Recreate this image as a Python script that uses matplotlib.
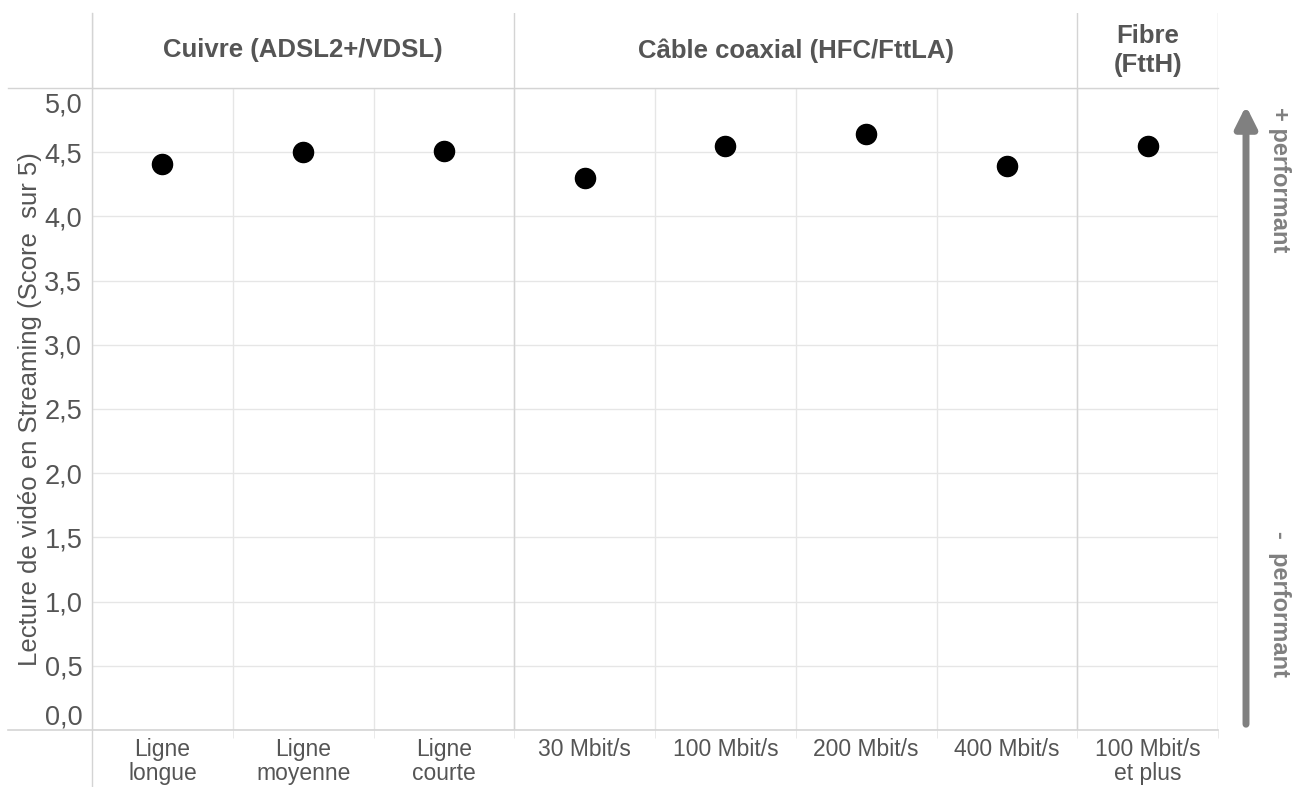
import matplotlib.pyplot as plt
from matplotlib.lines import Line2D
from matplotlib.patches import FancyArrowPatch
from matplotlib.transforms import ScaledTranslation

plt.rcParams['font.family'] = ['Liberation Sans', 'DejaVu Sans']

# data
categories = ['Ligne\nlongue', 'Ligne\nmoyenne', 'Ligne\ncourte', '30 Mbit/s',
              '100 Mbit/s', '200 Mbit/s', '400 Mbit/s', '100 Mbit/s\net plus']
scores = [4.41, 4.50, 4.51, 4.30, 4.55, 4.64, 4.39, 4.55]
groups = ['Cuivre (ADSL2+/VDSL)', 'Câble coaxial (HFC/FttLA)', 'Fibre\n(FttH)']
group_sizes = [3, 4, 1]
yticks = [0, 0.5, 1, 1.5, 2, 2.5, 3, 3.5, 4, 4.5, 5]
ytick_labels = ['0,0', '0,5', '1,0', '1,5', '2,0', '2,5', '3,0', '3,5', '4,0', '4,5', '5,0']

W, H = 1294, 787
txt = '#555555'
grid = '#e6e6e6'
border = '#d4d4d4'

fig = plt.figure(figsize=(W / 100, H / 100), dpi=100)

def fx(px):
    return px / W

def fy(py):
    return 1 - py / H

x0, x1, ytop, ybot = 92, 1218, 88, 730
ax = fig.add_axes([fx(x0), fy(ybot), fx(x1 - x0), fy(ytop) - fy(ybot)])
n = len(categories)
ax.scatter(range(n), scores, s=210, color='black', zorder=3)
ax.set_xlim(-0.5, n - 0.5)
ax.set_ylim(0, 5)

ax.set_yticks(yticks)
ax.set_yticklabels(ytick_labels)
ax.yaxis.grid(True, color=grid, lw=1)
ax.set_xticks(range(n))
ax.set_xticklabels(categories, fontsize=16.5, color=txt, linespacing=1.05, va='top')
ax.set_xticks([i - 0.5 for i in range(n + 1)], minor=True)
ax.xaxis.grid(True, which='minor', color=grid, lw=1)
ax.tick_params(axis='x', which='major', length=0, pad=6)
ax.tick_params(axis='x', which='minor', length=6, color=grid)
ax.tick_params(axis='y', length=0, labelsize=19.5, labelcolor=txt, pad=7)
ylabs = ax.get_yticklabels()
ylabs[0].set_va('bottom')
ylabs[-1].set_va('top')
ylabs[-1].set_transform(ylabs[-1].get_transform() + ScaledTranslation(0, -0.05, fig.dpi_scale_trans))

for s in ax.spines.values():
    s.set_visible(False)
ax.set_axisbelow(True)

# group separators inside the plot
bounds = [-0.5]
for g in group_sizes:
    bounds.append(bounds[-1] + g)
for b in bounds[1:]:
    ax.axvline(b, color=border, lw=1, zorder=1)

ax.set_ylabel('Lecture de vidéo en Streaming (Score  sur 5)', fontsize=18.5, color=txt)
ax.yaxis.set_label_coords(fx(42 - x0) / fx(x1 - x0), 0.5)

# header row
hy0, hy1 = 13, 88
hax = fig.add_axes([fx(x0), fy(hy1), fx(x1 - x0), fy(hy0) - fy(hy1)])
hax.set_xlim(-0.5, n - 0.5)
hax.set_ylim(0, 1)
hax.axis('off')
for b in bounds:
    hax.axvline(b, color=border, lw=1)
for i, g in enumerate(groups):
    c = (bounds[i] + bounds[i + 1]) / 2
    hax.text(c, 0.5, g, ha='center', va='center', fontsize=18.5, fontweight='bold',
             color=txt, linespacing=1.25)

# frame lines
fig.add_artist(Line2D([fx(8), fx(x1)], [fy(ytop), fy(ytop)], color=border, lw=1))
fig.add_artist(Line2D([fx(8), fx(x1)], [fy(ybot), fy(ybot)], color=border, lw=1.2))
fig.add_artist(Line2D([fx(x0), fx(x0)], [fy(hy0), fy(H)], color=border, lw=1))

# arrow on the right
fig.add_artist(FancyArrowPatch((fx(1246), fy(727)), (fx(1246), fy(103)),
                               transform=fig.transFigure, arrowstyle='-|>',
                               mutation_scale=32, lw=5, color='#808080'))
fig.text(fx(1279), fy(180), '+ performant', rotation=-90, ha='center', va='center',
         fontsize=17, fontweight='bold', color='#808080')
fig.text(fx(1279), fy(604), '-  performant', rotation=-90, ha='center', va='center',
         fontsize=17, fontweight='bold', color='#808080')

fig.savefig('out.png', dpi=100)
